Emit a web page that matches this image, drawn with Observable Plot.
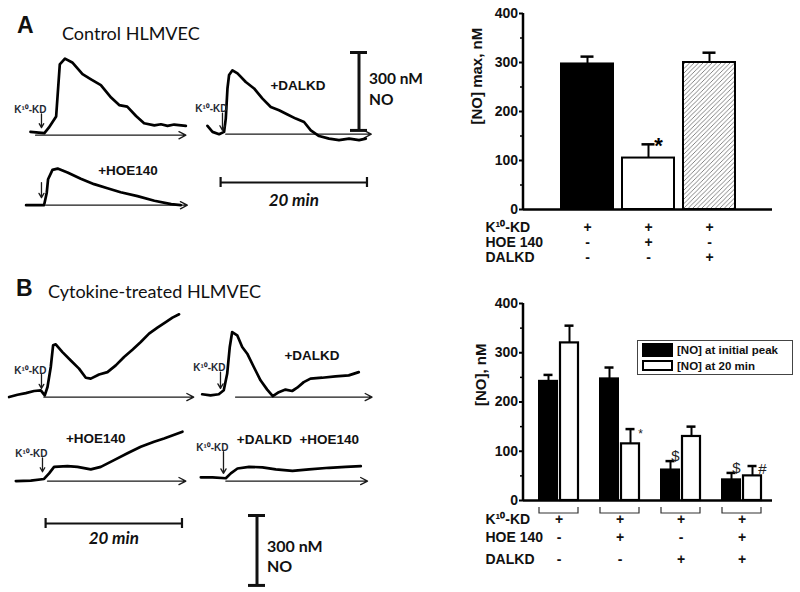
<!DOCTYPE html>
<html><head><meta charset="utf-8">
<script src="https://cdn.jsdelivr.net/npm/d3@7"></script>
<script src="https://cdn.jsdelivr.net/npm/@observablehq/plot@0.6"></script>
<style>
html,body{margin:0;padding:0;background:#fff;}
#fig{position:relative;width:800px;height:592px;overflow:hidden;font-family:"Liberation Sans",Arial,sans-serif;}
.lbl{position:absolute;white-space:nowrap;line-height:1;color:#111;}
</style></head><body><div id="fig"></div>
<script>
// ---------- Trace data: time after K10-KD (min) and NO (nM) ----------
// A: control HLMVEC
const aCtrlT  = [-1.5, 0.4, 1.0, 2.0, 2.5, 3.2, 4.2, 5.6, 6.7, 8.1, 9.5, 10.6, 11.7, 12.9, 14.0, 15.4, 16.3, 17.2, 18.1, 19.7];
const aCtrlNO = [13, 8, 29, 72, 273, 295, 280, 235, 216, 193, 145, 116, 110, 74, 46, 38, 42, 36, 41, 36];
const aCtrlAxis = [-0.8, 19.7];
const aDalT  = [-2.05, -1.36, -0.46, 0.22, 0.45, 0.68, 0.90, 1.36, 2.05, 3.18, 4.31, 5.46, 6.59, 7.72, 8.87, 10.0, 11.13, 12.05, 13.18, 14.54, 15.9, 17.27, 18.64, 19.55];
const aDalNO = [32, 9, 0, 9, 60, 176, 228, 246, 234, 201, 176, 137, 105, 92, 76, 60, 47, 15, -7, -17, -23, -17, -23, -17];
const aDalAxis = [0.45, 20.3];
const aHoeT  = [-2.1, 0.35, 0.72, 0.9, 1.5, 2.2, 3.55, 5.36, 7.18, 9.0, 10.8, 13.1, 15.4, 17.7, 19.0];
const aHoeNO = [0, 0, 48, 100, 136, 141, 126, 102, 81, 65, 50, 35, 17, 4, 0];
const aHoeAxis = [0.6, 19.9];
// B: cytokine-treated HLMVEC
const bCtrlT  = [-4.74, -3.51, -2.3, -1.08, -0.1, 0.48, 0.88, 1.36, 1.7, 2.09, 3.07, 4.29, 5.5, 6.49, 7.22, 8.43, 9.66, 10.88, 12.09, 13.32, 14.54, 15.75, 16.98, 18.2, 19.18, 20.15];
const bCtrlNO = [0, 10, 17, 26, 29, 7, 43, 129, 222, 226, 193, 157, 122, 83, 79, 97, 107, 136, 172, 203, 236, 272, 298, 322, 341, 355];
const bCtrlAxis = [0.34, 22.3];
const bDalT  = [-2.68, -1.46, -0.25, 0.48, 0.98, 1.36, 1.71, 2.45, 3.18, 3.92, 4.88, 5.86, 6.84, 7.66, 8.54, 9.52, 10.5, 11.23, 12.19, 13.18, 14.89, 16.84, 18.78, 20.25];
const bDalNO = [12, 7, 12, 29, 100, 215, 279, 265, 215, 186, 129, 72, 32, 4, 21, 32, 26, 40, 64, 79, 83, 89, 93, 107];
const bDalAxis = [2.2, 22.2];
const bHoeT  = [-3.9, -1.71, 0.23, 0.97, 1.7, 3.66, 5.12, 7.07, 8.54, 10.48, 12.44, 14.39, 16.34, 17.8, 20.5];
const bHoeNO = [0, 2, 9, 33, 61, 64, 61, 50, 61, 90, 119, 147, 169, 183, 212];
const bHoeAxis = [0.73, 21.0];
const bBothT  = [-3.32, -1.61, 0.34, 1.07, 2.05, 3.75, 5.71, 7.66, 10.1, 12.53, 15.46, 17.9, 20.1];
const bBothNO = [16, 16, 12, 33, 54, 61, 59, 50, 44, 50, 57, 61, 64];
const bBothAxis = [0.34, 21.1];
const scaleMin = 20, scaleNM = 300;

// ---------- Bar data ----------
const aConds  = ["K10-KD", "K10-KD + HOE 140", "K10-KD + DALKD"];
const aNOmax  = [297, 105, 300];
const aSEM    = [15, 28, 20];
const aSig    = ["", "*", ""];
const aRowK10 = ["+", "+", "+"];
const aRowHOE = ["-", "+", "-"];
const aRowDAL = ["-", "-", "+"];

const bGroups  = ["K10-KD", "K10-KD + HOE 140", "K10-KD + DALKD", "K10-KD + HOE 140 + DALKD"];
const bPeak    = [242, 247, 62, 42];
const bPeakSEM = [13, 23, 18, 14];
const b20      = [320, 115, 130, 50];
const b20SEM   = [35, 30, 20, 20];
const bPeakSig = ["", "", "$", "$"];
const b20Sig   = ["", "*", "", "#"];
const bRowK10  = ["+", "+", "+", "+"];
const bRowHOE  = ["-", "+", "-", "+"];
const bRowDAL  = ["-", "-", "+", "+"];
const rowNames = ["K¹⁰-KD", "HOE 140", "DALKD"];
const legendNames = ["[NO] at initial peak", "[NO] at 20 min"];

// ---------- helpers ----------
const fig = document.getElementById("fig");
const FONT = '"Liberation Sans", Arial, sans-serif';
const LATO = 'Lato, "Open Sans", sans-serif';
const NS = "http://www.w3.org/2000/svg";
function pos(left, top) {
  return {position: "absolute", left: left + "px", top: top + "px", background: "transparent", overflow: "visible", fontFamily: FONT, maxWidth: "none"};
}
function addHTML(text, css) {
  const d = document.createElement("div");
  d.className = "lbl"; d.textContent = text; Object.assign(d.style, css); fig.appendChild(d); return d;
}
function bw(s) { return typeof s.bandwidth === "function" ? s.bandwidth() : s.bandwidth; }

function tracePlot(cfg) {
  const ta = -6, tb = 23, na = -60, nb = 380;
  const pts = cfg.t.map((t, i) => ({t, no: cfg.no[i]}));
  const marks = [
    Plot.arrow([cfg.axis], {x1: d => d[0], x2: d => d[1], y1: 0, y2: 0, stroke: "#1a1a1a", strokeWidth: 1.3, headLength: 9, headAngle: 55}),
    Plot.line(pts, {x: "t", y: "no", stroke: "#000", strokeWidth: 2.7, strokeLinejoin: "round", strokeLinecap: "round"}),
    Plot.arrow([cfg.arrow], {x1: 0, x2: 0, y1: d => d[0], y2: d => d[1], stroke: "#1a1a1a", strokeWidth: 1.3, headLength: 6, headAngle: 60})
  ];
  if (cfg.addLabel) marks.push(Plot.text([cfg.addLabel], {x: 0, y: cfg.arrow[0], text: d => d, textAnchor: "end", dx: 5, dy: -4, fontSize: 10, fontWeight: "bold", fill: "#1f2833"}));
  if (cfg.note) marks.push(Plot.text([cfg.note.text], {x: cfg.note.t, y: cfg.note.no, text: d => d, fontSize: 13.5, fontWeight: "bold", fill: "#111"}));
  const svg = Plot.plot({
    width: (tb - ta) * cfg.k, height: (nb - na) / cfg.r, margin: 0,
    x: {domain: [ta, tb], axis: null}, y: {domain: [na, nb], axis: null},
    style: pos(cfg.x0 + ta * cfg.k, cfg.yb - nb / cfg.r), marks
  });
  fig.appendChild(svg);
}

function scaleBarH(k, left, cy, labelDy) {
  const svg = Plot.plot({
    width: scaleMin * k + 20, height: 10, margin: 0, marginLeft: 10, marginRight: 10,
    x: {domain: [0, scaleMin], axis: null},
    style: pos(left - 10, cy - 5),
    marks: [
      Plot.ruleY([0], {x1: 0, x2: scaleMin, y: null, strokeWidth: 2.2, stroke: "#111"}),
      Plot.tickX([0, scaleMin], {x: d => d, strokeWidth: 2.2, stroke: "#111"}),
      Plot.text([scaleMin + " min"], {x: scaleMin / 2, text: d => d, frameAnchor: "middle", dy: labelDy, fontFamily: LATO, fontSize: 17, fontWeight: "bold", fontStyle: "italic", fill: "#111"})
    ]
  });
  fig.appendChild(svg);
}
function scaleBarV(r, cx, top, fs, yLab1, yLab2) {
  const svg = Plot.plot({
    width: 17, height: scaleNM / r, margin: 0,
    y: {domain: [0, scaleNM], axis: null},
    style: pos(cx - 8.5, top),
    marks: [
      Plot.ruleX([0], {y1: 0, y2: scaleNM, x: null, strokeWidth: 3, stroke: "#111"}),
      Plot.tickY([0, scaleNM], {y: d => d, strokeWidth: 3, stroke: "#111"}),
      Plot.text([scaleNM + " nM"], {y: yLab1, text: d => d, frameAnchor: "left", dx: 18.5, textAnchor: "start", fontFamily: LATO, fontSize: fs, fontWeight: "bold", fill: "#111"}),
      Plot.text(["NO"], {y: yLab2, text: d => d, frameAnchor: "left", dx: 18.5, textAnchor: "start", fontFamily: LATO, fontSize: fs, fontWeight: "bold", fill: "#111"})
    ]
  });
  fig.appendChild(svg);
}

// ---------- titles ----------
addHTML("A", {left: "17px", top: "13.8px", fontSize: "23px", fontWeight: "bold", fontFamily: FONT});
addHTML("Control HLMVEC", {left: "62px", top: "23.5px", fontSize: "18px", fontFamily: LATO});
addHTML("B", {left: "16px", top: "277.2px", fontSize: "23px", fontWeight: "bold", fontFamily: FONT});
addHTML("Cytokine-treated HLMVEC", {left: "48px", top: "281.5px", fontSize: "18px", fontFamily: LATO});

// ---------- traces ----------
const kA = 7.33, rA = 3.85, kB = 6.83, rB = 4.29;
tracePlot({t: aCtrlT, no: aCtrlNO, axis: aCtrlAxis, k: kA, r: rA, x0: 40.7, yb: 134.3, arrow: [82, 29], addLabel: "K¹⁰-KD"});
tracePlot({t: aDalT, no: aDalNO, axis: aDalAxis, k: kA, r: rA, x0: 221.7, yb: 134, arrow: [81, 15], addLabel: "K¹⁰-KD", note: {text: "+DALKD", t: 10.3, no: 186}});
tracePlot({t: aHoeT, no: aHoeNO, axis: aHoeAxis, k: kA, r: rA, x0: 40.7, yb: 204.3, arrow: [87, 29], note: {text: "+HOE140", t: 11.8, no: 132}});
tracePlot({t: bCtrlT, no: bCtrlNO, axis: bCtrlAxis, k: kB, r: rB, x0: 40.7, yb: 396.7, arrow: [97, 37], addLabel: "K¹⁰-KD"});
tracePlot({t: bDalT, no: bDalNO, axis: bDalAxis, k: kB, r: rB, x0: 220, yb: 396.7, arrow: [107, 37], addLabel: "K¹⁰-KD", note: {text: "+DALKD", t: 13.4, no: 179}});
tracePlot({t: bHoeT, no: bHoeNO, axis: bHoeAxis, k: kB, r: rB, x0: 41.7, yb: 481, arrow: [99, 40], addLabel: "K¹⁰-KD", note: {text: "+HOE140", t: 7.8, no: 180}});
tracePlot({t: bBothT, no: bBothNO, axis: bBothAxis, k: kB, r: rB, x0: 222.7, yb: 481, arrow: [126, 33], addLabel: "K¹⁰-KD", note: {text: "+DALKD  +HOE140", t: 10.9, no: 176}});

scaleBarH(kA, 220, 182, 18);
scaleBarV(rA, 358, 51.7, 15.5, 198, 117);
scaleBarH(kB, 45, 523.3, 15);
scaleBarV(rB, 256.7, 515, 16, 167, 79);

// ---------- bar chart helpers ----------
function axisLine(index, scales, values, dims) {
  const p = document.createElementNS(NS, "path");
  p.setAttribute("d", `M${dims.marginLeft},${scales.y(0)}V${scales.y(400)}`);
  p.setAttribute("stroke", "#000"); p.setAttribute("stroke-width", "2.5"); p.setAttribute("fill", "none");
  return p;
}
function hatchDefs() {
  const defs = document.createElementNS(NS, "defs");
  defs.innerHTML = '<pattern id="hatchA" patternUnits="userSpaceOnUse" width="4.5" height="4.5"><rect width="4.5" height="4.5" fill="#fff"/><path d="M-1,1 L1,-1 M0,4.5 L4.5,0 M3.5,5.5 L5.5,3.5" stroke="#777" stroke-width="0.9"/></pattern>';
  return defs;
}
const axisTxt = {fontSize: 14, fontWeight: "bold", fill: "#111"};
function yAxes() {
  return [
    Plot.axisY({ticks: [0, 100, 200, 300, 400], tickSize: 4, tickPadding: 1.5, strokeWidth: 2, label: null, ...axisTxt}),
    Plot.axisY({ticks: [50, 150, 250, 350], tickSize: 3, tickFormat: () => "", strokeWidth: 1.5, label: null}),
    axisLine,
    Plot.ruleY([0], {strokeWidth: 2.5, stroke: "#000"})
  ];
}
function rowMarks(data, keys, dys) {
  const m = [];
  keys.forEach((key, i) => {
    m.push(Plot.text(data, {x: "g", text: key, frameAnchor: "bottom", dy: dys[i], ...axisTxt}));
    m.push(Plot.text([rowNames[i]], {text: d => d, frameAnchor: "bottom-left", dx: -38, dy: dys[i], textAnchor: "start", ...axisTxt}));
  });
  return m;
}

// ---------- Panel A bar chart ----------
const aData = aConds.map((g, i) => ({g, v: aNOmax[i], hi: aNOmax[i] + aSEM[i], sig: aSig[i], k10: aRowK10[i], hoe: aRowHOE[i], dal: aRowDAL[i]}));
fig.appendChild(Plot.plot({
  width: 340, height: 275, marginLeft: 63, marginRight: 28, marginTop: 13, marginBottom: 66,
  x: {type: "band", domain: aConds, paddingInner: 0.15, paddingOuter: 0.6, axis: null},
  y: {domain: [0, 400], label: null},
  color: {type: "ordinal", domain: aConds, range: ["#000", "#fff", "url(#hatchA)"]},
  style: pos(460, 0),
  marks: [
    hatchDefs,
    Plot.ruleX(aData, {x: "g", y1: "v", y2: "hi", strokeWidth: 2, stroke: "#000"}),
    Plot.tickY(aData, {x: "g", y: "hi", strokeWidth: 2.5, insetLeft: 19.5, insetRight: 19.5, stroke: "#000"}),
    Plot.barY(aData, {x: "g", y: "v", fill: "g", stroke: "#000", strokeWidth: 2}),
    ...yAxes(),
    Plot.text(aData.filter(d => d.sig), {x: "g", y: "hi", text: "sig", dx: 10, dy: 2, fontSize: 22, fontWeight: "bold"}),
    Plot.text(["[NO] max, nM"], {text: d => d, frameAnchor: "left", rotate: -90, dx: -46, dy: 13, fontSize: 15, fontWeight: "bold", fill: "#111"}),
    ...rowMarks(aData, ["k10", "hoe", "dal"], [22, 37, 52])
  ]
}));

// ---------- Panel B bar chart ----------
const bData = bGroups.map((g, i) => ({g, p: bPeak[i], phi: bPeak[i] + bPeakSEM[i], m: b20[i], mhi: b20[i] + b20SEM[i],
  psig: bPeakSig[i], msig: b20Sig[i], k10: bRowK10[i], hoe: bRowHOE[i], dal: bRowDAL[i]}));
function brackets(index, scales, values, dims) {
  const g = document.createElementNS(NS, "g");
  const w = bw(scales.x), y0 = scales.y(0);
  for (const grp of bGroups) {
    const x0 = scales.x(grp), x1 = x0 + w;
    const p = document.createElementNS(NS, "path");
    p.setAttribute("d", `M${x0},${y0 + 7}V${y0 + 13}H${x1}V${y0 + 7}`);
    p.setAttribute("stroke", "#333"); p.setAttribute("stroke-width", "1.2"); p.setAttribute("fill", "none");
    g.appendChild(p);
  }
  return g;
}
fig.appendChild(Plot.plot({
  width: 340, height: 300, marginLeft: 63, marginRight: 28, marginTop: 23, marginBottom: 80,
  x: {type: "band", domain: bGroups, paddingInner: 0.36, paddingOuter: 0.22, align: 0.61, axis: null},
  y: {domain: [0, 400], label: null},
  style: pos(460, 280),
  marks: [
    Plot.ruleX(bData, {x: "g", y1: "p", y2: "phi", dx: -10.5, strokeWidth: 2, stroke: "#000"}),
    Plot.tickY(bData, {x: "g", y: "phi", dx: -10.5, strokeWidth: 2.5, insetLeft: 15, insetRight: 15, stroke: "#000"}),
    Plot.ruleX(bData, {x: "g", y1: "m", y2: "mhi", dx: 10.5, strokeWidth: 2, stroke: "#000"}),
    Plot.tickY(bData, {x: "g", y: "mhi", dx: 10.5, strokeWidth: 2.5, insetLeft: 15, insetRight: 15, stroke: "#000"}),
    Plot.barY(bData, {x: "g", y: "p", fill: "#000", stroke: "#000", strokeWidth: 2, insetRight: 21}),
    Plot.barY(bData, {x: "g", y: "m", fill: "#fff", stroke: "#000", strokeWidth: 2.2, insetLeft: 21}),
    ...yAxes(),
    brackets,
    Plot.text(bData.filter(d => d.psig), {x: "g", y: "phi", text: "psig", dx: -5.5, dy: -5, fontSize: 15, fill: "#222"}),
    Plot.text(bData.filter(d => d.msig === "*"), {x: "g", y: "mhi", text: "msig", dx: 20.5, dy: 5.5, fontSize: 12, fill: "#222"}),
    Plot.text(bData.filter(d => d.msig === "#"), {x: "g", y: "mhi", text: "msig", dx: 20.5, dy: 3.5, fontSize: 15, fill: "#222"}),
    Plot.text(["[NO], nM"], {text: d => d, frameAnchor: "left", rotate: -90, dx: -42, dy: 4, fontSize: 15, fontWeight: "bold", fill: "#111"}),
    ...rowMarks(bData, ["k10", "hoe", "dal"], [23, 41, 63])
  ]
}));

// ---------- legend for panel B ----------
const leg = document.createElement("div");
Object.assign(leg.style, {position: "absolute", left: "637px", top: "340px", width: "156px", height: "35px", border: "1px solid #444", boxSizing: "border-box", background: "#fff"});
fig.appendChild(leg);
const sw1 = document.createElement("div");
Object.assign(sw1.style, {position: "absolute", left: "4px", top: "2px", width: "31px", height: "14px", background: "#000"});
const sw2 = document.createElement("div");
Object.assign(sw2.style, {position: "absolute", left: "4px", top: "19px", width: "31px", height: "11px", background: "#fff", border: "2px solid #000", boxSizing: "border-box"});
leg.appendChild(sw1); leg.appendChild(sw2);
legendNames.forEach((t, i) => {
  const d = document.createElement("div");
  d.textContent = t;
  Object.assign(d.style, {position: "absolute", left: "39px", top: (i === 0 ? 2 : 19) + "px", fontSize: "11.5px", fontWeight: "bold", lineHeight: (i === 0 ? 14 : 12) + "px", whiteSpace: "nowrap", color: "#111"});
  leg.appendChild(d);
});
</script></body></html>
